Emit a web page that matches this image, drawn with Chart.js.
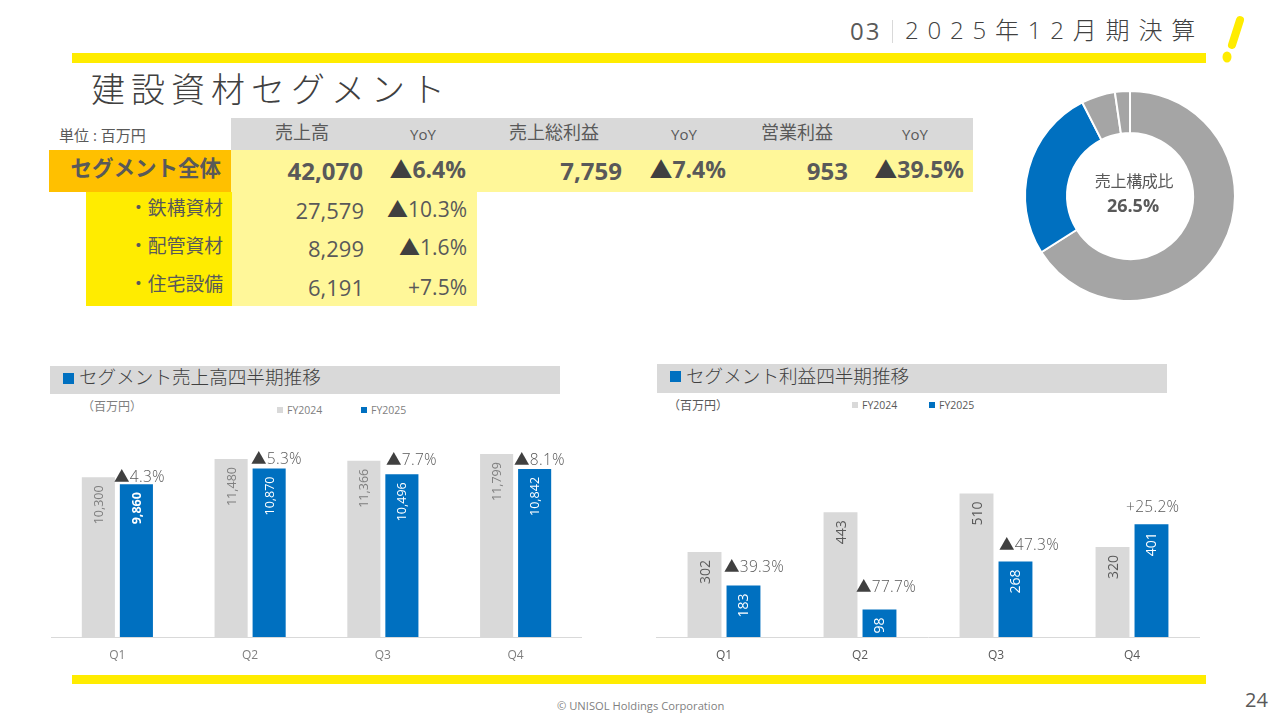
<!DOCTYPE html>
<html lang="ja">
<head>
<meta charset="utf-8">
<title>建設資材セグメント</title>
<script src="https://cdn.jsdelivr.net/npm/chart.js@4"></script>
<style>
    html, body { margin: 0; padding: 0; background: #fff; }
    #slide {
        position: relative; width: 1280px; height: 720px; overflow: hidden;
        font-family: "Open Sans", "Noto Sans CJK JP", sans-serif; color: #595959;
    }
    .box { position: absolute; }
    .txt { position: absolute; white-space: nowrap; line-height: 1; }
    canvas { position: absolute; }
    .tri { color: #404040; }
</style>
</head>
<body>
<div id="slide">
    <!-- rules and table fills -->
    <div class="box" style="left:72px;top:53px;width:1134px;height:10px;background:#ffec00"></div>
    <div class="box" style="left:72px;top:675px;width:1134px;height:9px;background:#ffec00"></div>
    <div class="box" style="left:892px;top:20px;width:1px;height:23px;background:#d9d9d9"></div>
    <div class="box" style="left:231px;top:118px;width:742px;height:32px;background:#d9d9d9"></div>
    <div class="box" style="left:49px;top:150px;width:182px;height:42px;background:#ffc000"></div>
    <div class="box" style="left:231px;top:150px;width:742px;height:42px;background:#fff799"></div>
    <div class="box" style="left:86px;top:192px;width:146px;height:114px;background:#ffec00"></div>
    <div class="box" style="left:232px;top:192px;width:245px;height:114px;background:#fff799"></div>
    <div class="box" style="left:50px;top:366px;width:510px;height:28px;background:#d9d9d9"></div>
    <div class="box" style="left:657px;top:364px;width:510px;height:29px;background:#d9d9d9"></div>
    <div class="box" style="left:63px;top:373px;width:11px;height:11px;background:#0070c0"></div>
    <div class="box" style="left:670px;top:371px;width:11px;height:11px;background:#0070c0"></div>

    <svg class="box" style="left:1215px;top:10px" width="40" height="60">
        <line x1="25" y1="10" x2="17" y2="35" stroke="#ffec00" stroke-width="8" stroke-linecap="round"/>
        <ellipse cx="12" cy="47" rx="4.5" ry="5.5" fill="#ffec00"/>
    </svg>

    <canvas id="shareChart" width="220" height="220" style="left:1020px;top:86px"></canvas>
    <canvas id="salesChart" width="531" height="247" style="left:51px;top:420px"></canvas>
    <canvas id="profitChart" width="544" height="247" style="left:656px;top:440px"></canvas>
</div>

<script>
const quarters = ['Q1', 'Q2', 'Q3', 'Q4'];
const seriesNames = ['FY2024', 'FY2025'];

const sales2024 = [10300, 11480, 11366, 11799];
const sales2025 = [9860, 10870, 10496, 10842];
const salesYoy = ['▲4.3%', '▲5.3%', '▲7.7%', '▲8.1%'];

const profit2024 = [302, 443, 510, 320];
const profit2025 = [183, 98, 268, 401];
const profitYoy = ['▲39.3%', '▲77.7%', '▲47.3%', '+25.2%'];

const shareNames = ['鉄構資材', '配管資材', '住宅設備', 'その他'];
const shareValues = [66.0, 26.5, 5.2, 2.3];
const shareHighlight = '26.5%';

const tableHead = ['売上高', 'YoY', '売上総利益', 'YoY', '営業利益', 'YoY'];
const totalRow = ['42,070', '▲6.4%', '7,759', '▲7.4%', '953', '▲39.5%'];
const subNames = ['・鉄構資材', '・配管資材', '・住宅設備'];
const subSales = ['27,579', '8,299', '6,191'];
const subYoy = ['▲10.3%', '▲1.6%', '+7.5%'];

const GRAY = '#d9d9d9';
const BLUE = '#0070c0';
const slide = document.getElementById('slide');

// puts one line of text on the slide, x is the left, right or centre edge, y the vertical middle
function put(text, x, y, size, opts = {}) {
    const el = document.createElement('div');
    el.className = 'txt';
    el.innerHTML = text.replace('▲', '<span class="tri">▲</span>');
    el.style.fontSize = size + 'px';
    el.style.top = y + 'px';
    el.style.color = opts.color || '#595959';
    if (opts.weight) el.style.fontWeight = opts.weight;
    if (opts.spacing) el.style.letterSpacing = opts.spacing + 'px';
    if (opts.align === 'right') {
        el.style.right = (1280 - x) + 'px';
        el.style.transform = 'translateY(-50%)';
    } else if (opts.align === 'center') {
        el.style.left = x + 'px';
        el.style.transform = 'translate(-50%, -50%)';
    } else {
        el.style.left = x + 'px';
        el.style.transform = 'translateY(-50%)';
    }
    slide.appendChild(el);
}

function putLegend(squareXs, y, color) {
    seriesNames.forEach((name, i) => {
        const sq = document.createElement('div');
        sq.className = 'box';
        sq.style.cssText = `left:${squareXs[i]}px;top:${y - 3}px;width:6px;height:6px;background:${i ? BLUE : GRAY}`;
        slide.appendChild(sq);
        put(name, squareXs[i] + 10, y, 10.5, { color: color });
    });
}

// page furniture
put('03', 850, 31, 24, { spacing: 2, color: '#595959' });
put('2025年12月期決算', 905, 30, 24, { weight: 300, spacing: 8.8, color: '#404040' });
put('建設資材セグメント', 91, 89, 34, { weight: 300, spacing: 6, color: '#404040' });
put('単位 : 百万円', 59, 135, 15);
put('© UNISOL Holdings Corporation', 557, 706, 11.2, { color: '#7f7f7f' });
put('24', 1245, 700, 20);

// table
const headCentres = [302, 423, 554, 684, 797, 915];
tableHead.forEach((t, i) => put(t, headCentres[i], i % 2 ? 134 : 132, i % 2 ? 15 : 18, { align: 'center' }));

put('セグメント全体', 221, 168, 21.5, { align: 'right', weight: 700 });
const totalRights = [363, 466, 622, 726, 848, 964];
totalRow.forEach((t, i) => put(t, totalRights[i], i % 2 ? 169 : 171, i % 2 ? 23 : 24, { align: 'right', weight: 700 }));

const subYs = [208, 246, 284];
const subValueYs = [210, 248, 287];
const subYoyYs = [209, 247, 287];
subNames.forEach((t, i) => {
    put(t, 223, subYs[i], 18.8, { align: 'right' });
    put(subSales[i], 364, subValueYs[i], 22, { align: 'right' });
    put(subYoy[i], 467, subYoyYs[i], 21, { align: 'right' });
});

// section headings and chart captions
put('セグメント売上高四半期推移', 79, 377, 18.6, { weight: 300, color: '#404040' });
put('セグメント利益四半期推移', 686, 376, 18.6, { weight: 300, color: '#404040' });
put('（百万円）', 82, 407, 12, { color: '#7f7f7f' });
put('（百万円）', 668, 406, 12);
putLegend([277, 361], 410, '#7f7f7f');
putLegend([852, 929], 405, '#595959');

// year on year notes above the blue bars
const salesYoyLeft = [114, 251, 386, 514];
const salesYoyMid = [477, 459, 460, 460];
salesYoy.forEach((t, i) => put(t, salesYoyLeft[i], salesYoyMid[i], 15.5, { spacing: 0.3, weight: 300 }));
const profitYoyLeft = [724, 856, 999, 1126];
const profitYoyMid = [567, 587, 545, 507];
profitYoy.forEach((t, i) => put(t, profitYoyLeft[i], profitYoyMid[i], 15.5, { spacing: 0.3, weight: 300 }));

// rotated value labels just inside the top of each bar
const barValueLabels = {
    id: 'barValueLabels',
    afterDatasetsDraw(chart) {
        const ctx = chart.ctx;
        const size = chart.options.valueLabelSize;
        chart.data.datasets.forEach((ds, d) => {
            chart.getDatasetMeta(d).data.forEach((bar, i) => {
                ctx.save();
                ctx.translate(bar.x + 1, bar.y + 8);
                ctx.rotate(-Math.PI / 2);
                ctx.textAlign = 'right';
                ctx.textBaseline = 'middle';
                ctx.fillStyle = ds.labelColor;
                ctx.font = `${ds.boldIndex === i ? 700 : 400} ${size}px "Open Sans", sans-serif`;
                ctx.fillText(ds.data[i].toLocaleString('en-US'), 0, 0);
                ctx.restore();
            });
        });
    }
};

function barChart(id, first, second, yMax, plotHeight, firstLabelColor, tickColor, boldIndex, labelSize) {
    return new Chart(document.getElementById(id), {
        type: 'bar',
        data: {
            labels: quarters,
            datasets: [
                { label: seriesNames[0], data: first, backgroundColor: GRAY, labelColor: firstLabelColor },
                { label: seriesNames[1], data: second, backgroundColor: BLUE, labelColor: '#fff', boldIndex: boldIndex }
            ]
        },
        options: {
            responsive: false,
            animation: false,
            events: [],
            valueLabelSize: labelSize,
            categoryPercentage: 0.573,
            barPercentage: 0.87,
            layout: { padding: 0 },
            plugins: { legend: { display: false }, tooltip: { enabled: false } },
            scales: {
                x: {
                    grid: { display: false },
                    border: { color: GRAY, width: 1 },
                    ticks: { color: tickColor, font: { size: 12, family: '"Open Sans", sans-serif' }, padding: 3, maxRotation: 0 },
                    afterFit: (scale) => { scale.height = 247 - plotHeight; }
                },
                y: { display: false, min: 0, max: yMax }
            }
        },
        plugins: [barValueLabels]
    });
}

barChart('salesChart', sales2024, sales2025, 14000, 217, '#7f7f7f', '#7f7f7f', 0, 12.5);
barChart('profitChart', profit2024, profit2025, 700, 197, '#595959', '#595959', -1, 14);

new Chart(document.getElementById('shareChart'), {
    type: 'doughnut',
    data: {
        labels: shareNames,
        datasets: [{
            data: shareValues,
            backgroundColor: ['#a5a5a5', BLUE, '#a5a5a5', '#a5a5a5'],
            borderColor: '#fff',
            borderWidth: 2
        }]
    },
    options: {
        responsive: false,
        animation: false,
        events: [],
        cutout: '60%',
        layout: { padding: 4 },
        plugins: { legend: { display: false }, tooltip: { enabled: false } }
    }
});
put('売上構成比', 1134, 181, 16, { align: 'center', spacing: -0.3 });
put(shareHighlight, 1133, 205, 18, { align: 'center', weight: 700 });
</script>
</body>
</html>
